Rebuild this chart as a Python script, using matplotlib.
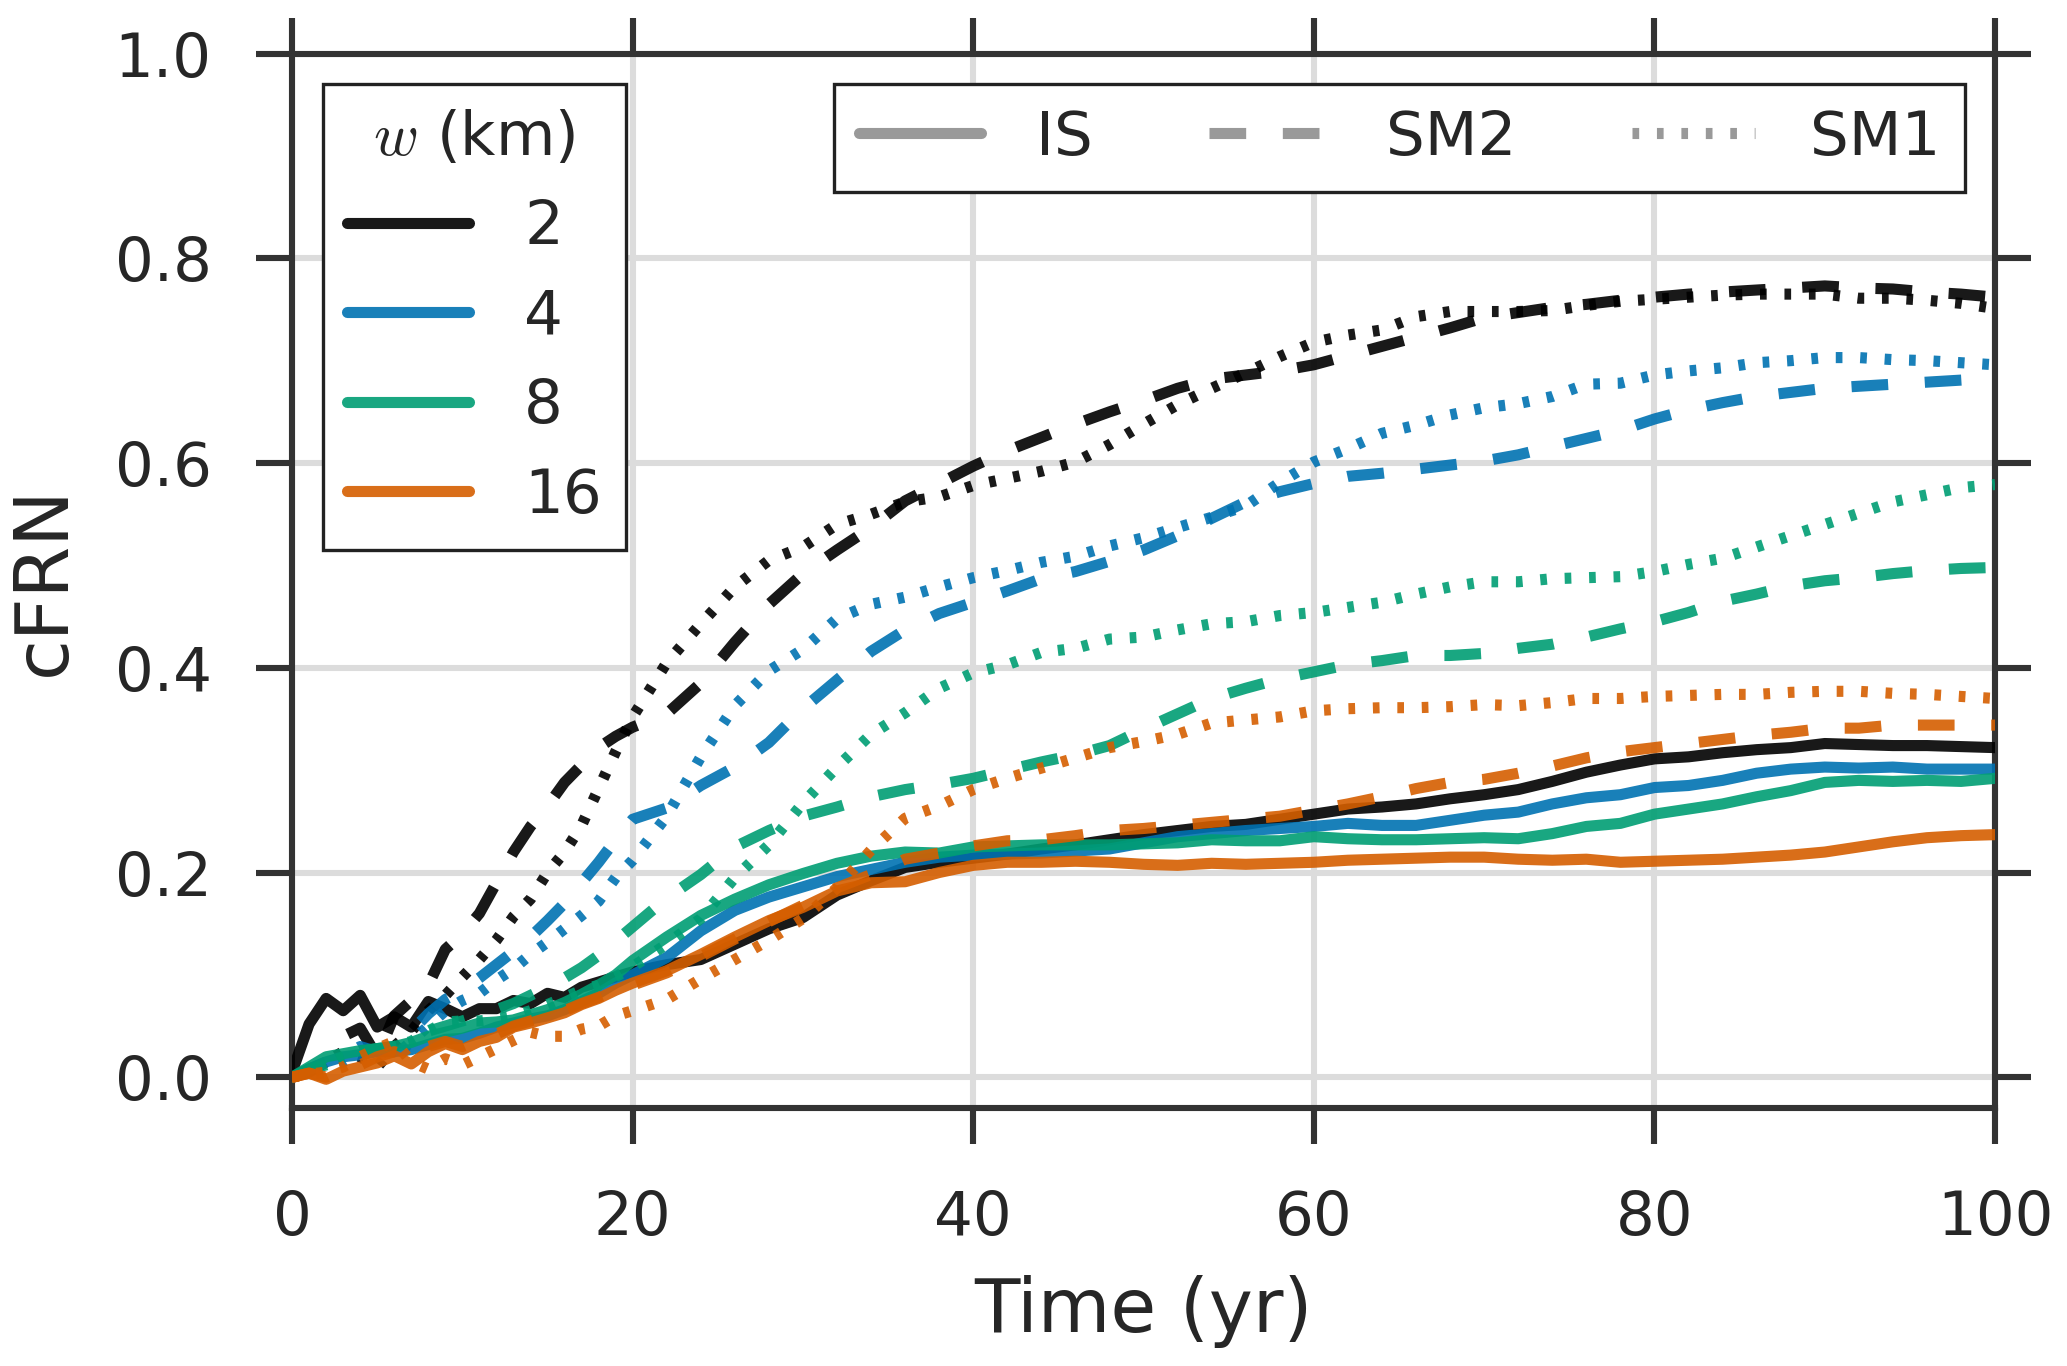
import matplotlib
matplotlib.use("Agg")
import matplotlib.pyplot as plt
from matplotlib.lines import Line2D
import numpy as np

plt.rcParams['font.family'] = ['DejaVu Sans']
plt.rcParams['mathtext.fontset'] = 'cm'
plt.rcParams['lines.scale_dashes'] = False

# time axis (years)
t = list(range(0, 20)) + list(range(20, 101, 2))

widths = ["2", "4", "8", "16"]
colors = ["#000000", "#0072B2", "#009E73", "#D55E00"]
models = ["IS", "SM2", "SM1"]

# ---- IS (solid) ----
is_w2 = [0.005, 0.052, 0.077, 0.065, 0.080, 0.049, 0.059, 0.049, 0.074, 0.067,
         0.059, 0.067, 0.067, 0.075, 0.072, 0.082, 0.078, 0.088, 0.093, 0.098,
         0.103, 0.110, 0.115, 0.130, 0.145, 0.156, 0.178, 0.192, 0.205, 0.210,
         0.214, 0.218, 0.223, 0.227, 0.232, 0.237, 0.241, 0.245, 0.247, 0.252,
         0.257, 0.262, 0.264, 0.267, 0.272, 0.276, 0.281, 0.289, 0.298, 0.305,
         0.311, 0.313, 0.317, 0.320, 0.322, 0.326, 0.325, 0.324, 0.324, 0.323, 0.322]
is_w4 = [0.0, 0.008, 0.015, 0.020, 0.022, 0.025, 0.025, 0.027, 0.032, 0.037,
         0.038, 0.043, 0.049, 0.053, 0.057, 0.060, 0.066, 0.074, 0.082, 0.092,
         0.100, 0.117, 0.143, 0.163, 0.176, 0.186, 0.196, 0.203, 0.210, 0.215,
         0.217, 0.218, 0.219, 0.221, 0.223, 0.229, 0.235, 0.238, 0.241, 0.243,
         0.245, 0.248, 0.246, 0.246, 0.251, 0.256, 0.259, 0.267, 0.273, 0.276,
         0.283, 0.285, 0.290, 0.297, 0.301, 0.303, 0.302, 0.303, 0.301, 0.301, 0.301]
is_w8 = [0.0, 0.010, 0.020, 0.023, 0.026, 0.028, 0.030, 0.034, 0.040, 0.044,
         0.048, 0.053, 0.054, 0.056, 0.061, 0.066, 0.073, 0.081, 0.090, 0.100,
         0.114, 0.137, 0.158, 0.174, 0.188, 0.199, 0.209, 0.216, 0.220, 0.219,
         0.225, 0.226, 0.227, 0.227, 0.227, 0.228, 0.229, 0.232, 0.231, 0.231,
         0.235, 0.233, 0.232, 0.232, 0.233, 0.234, 0.233, 0.238, 0.245, 0.248,
         0.257, 0.262, 0.267, 0.274, 0.280, 0.288, 0.290, 0.289, 0.290, 0.289, 0.292]
is_w16 = [0.0, 0.004, -0.002, 0.006, 0.010, 0.014, 0.021, 0.013, 0.025, 0.033,
          0.027, 0.035, 0.039, 0.049, 0.053, 0.058, 0.063, 0.071, 0.077, 0.085,
          0.092, 0.104, 0.120, 0.137, 0.153, 0.166, 0.182, 0.190, 0.191, 0.200,
          0.207, 0.210, 0.210, 0.211, 0.210, 0.208, 0.207, 0.209, 0.208, 0.209,
          0.210, 0.212, 0.213, 0.214, 0.215, 0.215, 0.213, 0.212, 0.213, 0.210,
          0.211, 0.212, 0.213, 0.215, 0.217, 0.220, 0.225, 0.230, 0.234, 0.236, 0.237]

# ---- SM2 (dashed) ----
sm2_w2 = [0.0, 0.005, 0.015, 0.040, 0.048, 0.020, 0.060, 0.075, 0.090, 0.125,
          0.140, 0.160, 0.190, 0.220, 0.245, 0.265, 0.288, 0.305, 0.322, 0.333,
          0.342, 0.355, 0.385, 0.425, 0.462, 0.492, 0.515, 0.537, 0.563, 0.580,
          0.597, 0.612, 0.625, 0.638, 0.650, 0.661, 0.673, 0.682, 0.686, 0.690,
          0.696, 0.705, 0.714, 0.723, 0.732, 0.742, 0.747, 0.752, 0.755, 0.759,
          0.762, 0.765, 0.767, 0.769, 0.771, 0.773, 0.771, 0.770, 0.767, 0.765, 0.762]
sm2_w4 = [0.0, 0.008, 0.015, 0.020, 0.030, 0.025, 0.030, 0.045, 0.062, 0.076,
          0.085, 0.097, 0.110, 0.123, 0.137, 0.153, 0.170, 0.190, 0.210, 0.232,
          0.252, 0.263, 0.285, 0.303, 0.327, 0.360, 0.388, 0.416, 0.437, 0.453,
          0.464, 0.475, 0.487, 0.494, 0.504, 0.515, 0.529, 0.546, 0.562, 0.572,
          0.580, 0.587, 0.590, 0.594, 0.598, 0.602, 0.608, 0.616, 0.624, 0.632,
          0.643, 0.652, 0.659, 0.665, 0.669, 0.673, 0.675, 0.677, 0.679, 0.681, 0.683]
sm2_w8 = [0.0, 0.008, 0.012, 0.018, 0.025, 0.028, 0.030, 0.035, 0.045, 0.050,
          0.055, 0.060, 0.066, 0.072, 0.080, 0.088, 0.097, 0.107, 0.119, 0.133,
          0.147, 0.175, 0.198, 0.225, 0.241, 0.255, 0.264, 0.274, 0.281, 0.286,
          0.292, 0.300, 0.308, 0.315, 0.324, 0.340, 0.355, 0.370, 0.380, 0.389,
          0.396, 0.403, 0.407, 0.412, 0.412, 0.414, 0.419, 0.423, 0.430, 0.438,
          0.445, 0.454, 0.465, 0.472, 0.480, 0.485, 0.488, 0.492, 0.495, 0.497, 0.498]
sm2_w16 = [0.0, 0.004, 0.000, 0.008, 0.012, 0.020, 0.025, 0.020, 0.030, 0.035,
           0.030, 0.037, 0.042, 0.050, 0.055, 0.060, 0.065, 0.072, 0.078, 0.085,
           0.090, 0.102, 0.118, 0.135, 0.152, 0.168, 0.185, 0.198, 0.213, 0.219,
           0.226, 0.231, 0.232, 0.236, 0.241, 0.243, 0.246, 0.249, 0.252, 0.255,
           0.261, 0.267, 0.274, 0.282, 0.288, 0.291, 0.297, 0.304, 0.312, 0.318,
           0.322, 0.326, 0.330, 0.334, 0.337, 0.341, 0.341, 0.344, 0.344, 0.344, 0.344]

# ---- SM1 (dotted) ----
sm1_w2 = [0.0, 0.005, 0.015, 0.025, 0.020, 0.010, 0.030, 0.045, 0.065, 0.080,
          0.098, 0.115, 0.134, 0.157, 0.174, 0.200, 0.220, 0.246, 0.282, 0.318,
          0.352, 0.405, 0.443, 0.479, 0.505, 0.518, 0.540, 0.550, 0.562, 0.567,
          0.578, 0.585, 0.592, 0.601, 0.618, 0.638, 0.657, 0.673, 0.688, 0.704,
          0.718, 0.725, 0.730, 0.743, 0.748, 0.748, 0.748, 0.749, 0.754, 0.758,
          0.760, 0.762, 0.764, 0.765, 0.765, 0.765, 0.761, 0.761, 0.759, 0.756, 0.751]
sm1_w4 = [0.0, 0.005, 0.010, 0.015, 0.025, 0.030, 0.020, 0.035, 0.050, 0.065,
          0.075, 0.082, 0.095, 0.106, 0.120, 0.132, 0.145, 0.158, 0.172, 0.195,
          0.212, 0.255, 0.313, 0.363, 0.397, 0.418, 0.448, 0.462, 0.469, 0.479,
          0.488, 0.495, 0.503, 0.509, 0.519, 0.527, 0.537, 0.547, 0.558, 0.581,
          0.601, 0.614, 0.629, 0.637, 0.647, 0.654, 0.658, 0.665, 0.677, 0.678,
          0.686, 0.690, 0.693, 0.698, 0.700, 0.703, 0.703, 0.701, 0.700, 0.698, 0.696]
sm1_w8 = [0.0, 0.005, 0.012, 0.020, 0.025, 0.028, 0.030, 0.035, 0.045, 0.054,
          0.055, 0.055, 0.057, 0.060, 0.065, 0.071, 0.078, 0.085, 0.090, 0.098,
          0.108, 0.130, 0.155, 0.195, 0.227, 0.268, 0.303, 0.335, 0.356, 0.380,
          0.395, 0.403, 0.415, 0.419, 0.428, 0.430, 0.437, 0.443, 0.445, 0.451,
          0.454, 0.459, 0.464, 0.472, 0.479, 0.484, 0.484, 0.487, 0.488, 0.489,
          0.494, 0.501, 0.507, 0.518, 0.529, 0.540, 0.551, 0.562, 0.569, 0.576, 0.579]
sm1_w16 = [0.0, 0.003, 0.005, 0.010, 0.020, 0.028, 0.035, 0.015, 0.008, 0.018,
           0.012, 0.020, 0.028, 0.036, 0.044, 0.040, 0.040, 0.047, 0.050, 0.060,
           0.065, 0.076, 0.096, 0.115, 0.134, 0.155, 0.185, 0.222, 0.253, 0.265,
           0.281, 0.292, 0.302, 0.312, 0.322, 0.328, 0.335, 0.346, 0.349, 0.352,
           0.358, 0.360, 0.361, 0.361, 0.362, 0.364, 0.363, 0.366, 0.370, 0.370,
           0.372, 0.373, 0.374, 0.374, 0.376, 0.377, 0.377, 0.375, 0.374, 0.372, 0.370]

series = {
    "IS": [is_w2, is_w4, is_w8, is_w16],
    "SM2": [sm2_w2, sm2_w4, sm2_w8, sm2_w16],
    "SM1": [sm1_w2, sm1_w4, sm1_w8, sm1_w16],
}
styles = {"IS": "-", "SM2": (0, (6.6, 6.6)), "SM1": (0, (1.2, 3.2))}
LW = 2.0

text_c = "#262626"
fig = plt.figure(figsize=(2067 / 400, 1366 / 400), dpi=400)
ax = fig.add_axes([0.1413, 0.1889, 0.9652 - 0.1413, 0.9608 - 0.1889])

for i, c in enumerate(colors):
    for m in models:
        ax.plot(t, series[m][i], color=c, ls=styles[m], lw=LW, alpha=0.9,
                dash_capstyle='butt', solid_capstyle='round', zorder=3)

ax.set_xlim(0, 100)
ax.set_ylim(-0.03, 1.0)
ax.set_xticks(np.arange(0, 101, 20))
ax.set_yticks(np.arange(0, 1.01, 0.2))
ax.set_yticklabels([f"{v:.1f}" for v in np.arange(0, 1.01, 0.2)])
ax.grid(True, color="#dcdcdc", lw=1.1, zorder=0)
ax.set_axisbelow(True)
for s in ax.spines.values():
    s.set_linewidth(1.1)
    s.set_color("#333333")
ax.tick_params(axis='both', which='major', direction='out', length=6.5, width=1.1,
               color="#333333", labelsize=11, labelcolor=text_c, pad=8,
               top=True, right=True)
ax.set_xlabel("Time (yr)", fontsize=13.4, color=text_c, labelpad=5)
ax.set_ylabel("cFRN", fontsize=13.4, color=text_c, labelpad=6)

h1 = [Line2D([], [], color=c, lw=LW, alpha=0.9, solid_capstyle='round') for c in colors]
leg1 = ax.legend(h1, widths, loc="upper left", title="$w$ (km)", fontsize=11,
                 title_fontsize=11, handlelength=2.0, handletextpad=0.9,
                 labelspacing=0.5, fancybox=False, framealpha=1,
                 edgecolor="#222222")
leg1.get_frame().set_linewidth(0.6)
for txt in leg1.get_texts():
    txt.set_color(text_c)
leg1.get_title().set_color(text_c)
ax.add_artist(leg1)

h2 = [Line2D([], [], color="#999999", lw=LW, ls=styles[m],
             dash_capstyle='butt', solid_capstyle='round') for m in models]
leg2 = ax.legend(h2, models, loc="upper right", ncol=3, fontsize=11,
                 handlelength=2.0, handletextpad=0.9, columnspacing=1.9,
                 fancybox=False, framealpha=1, edgecolor="#222222")
leg2.get_frame().set_linewidth(0.6)
for txt in leg2.get_texts():
    txt.set_color(text_c)

fig.savefig("out.png", dpi=400, facecolor="white")
